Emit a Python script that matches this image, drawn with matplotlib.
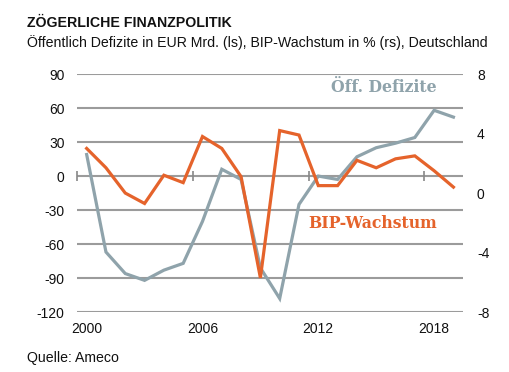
import numpy as np
import matplotlib
matplotlib.use('Agg')
import matplotlib.pyplot as plt

# Data
years = list(range(2000, 2020))
defizit = [19, -67, -86, -92, -83, -77, -40, 6, -3, -81, -108, -25, 0, -3, 17, 25, 29, 34, 58, 52]
bip = [3.0, 1.7, 0.0, -0.7, 1.2, 0.7, 3.8, 3.0, 1.1, -5.7, 4.2, 3.9, 0.5, 0.5, 2.2, 1.7, 2.3, 2.5, 1.5, 0.4]
left_ticks = [90, 60, 30, 0, -30, -60, -90, -120]
right_ticks = [8, 4, 0, -4, -8]
year_labels = [2000, 2006, 2012, 2018]

grey = '#8FA3AB'
orange = '#E5632B'
gridc = '#9B9B9B'
txt = '#111111'

plt.rcParams['font.family'] = ['Liberation Sans', 'DejaVu Sans']

fig = plt.figure(figsize=(5.1, 3.72), dpi=100)
ax = fig.add_axes([0.151, 0.161, 0.757, 0.640])
ax2 = ax.twinx()

ax.set_ylim(-120, 90)
ax2.set_ylim(-8, 8)
ax.set_xlim(1999.5, 2019.5)

for y in left_ticks:
    ax.axhline(y, color=gridc, lw=1.5, zorder=0)

ax.plot(years, defizit, color=grey, lw=2.3, solid_joinstyle='miter', zorder=3)
ax2.plot(years, bip, color=orange, lw=2.3, solid_joinstyle='miter', zorder=3)

for a in (ax, ax2):
    for s in a.spines.values():
        s.set_visible(False)

ax.set_yticks(left_ticks)
ax.set_yticklabels([str(v) for v in left_ticks])
ax.tick_params(axis='y', length=0, pad=9, labelsize=10, colors=txt)
ax2.set_yticks(right_ticks)
ax2.set_yticklabels([str(v) for v in right_ticks])
ax2.tick_params(axis='y', length=0, pad=10, labelsize=10, colors=txt)

ax.set_xticks(year_labels)
ax.set_xticklabels([str(v) for v in year_labels])
ax.tick_params(axis='x', length=0, pad=7, labelsize=10, colors=txt)

# small tick marks on the zero line at category boundaries
ax3 = ax.twiny()
ax3.set_xlim(ax.get_xlim())
for s in ax3.spines.values():
    s.set_visible(False)
ax3.spines['bottom'].set_position(('data', 0))
ax3.xaxis.set_ticks_position('bottom')
ax3.set_xticks([y - 0.5 for y in year_labels])
ax3.set_xticklabels([])
ax3.tick_params(axis='x', direction='inout', length=7, width=1.2, color='#888888')

ax.text(2015.4, 78, 'Öff. Defizite', family='DejaVu Serif', fontweight='bold',
        fontsize=11.3, color=grey, ha='center', va='center')
ax2.text(2014.8, -2.03, 'BIP-Wachstum', family='DejaVu Serif', fontweight='bold',
         fontsize=11.3, color=orange, ha='center', va='center')

fig.text(27 / 510, 1 - 23 / 372, 'ZÖGERLICHE FINANZPOLITIK', fontsize=10.2,
         fontweight='bold', va='center', ha='left', color=txt)
fig.text(27 / 510, 1 - 43 / 372, 'Öffentlich Defizite in EUR Mrd. (ls), BIP-Wachstum in % (rs), Deutschland',
         fontsize=10.2, va='center', ha='left', color=txt)
fig.text(27 / 510, 1 - 358 / 372, 'Quelle: Ameco', fontsize=10.2, va='center', ha='left', color=txt)

fig.savefig('out.png', dpi=100, facecolor='white')
